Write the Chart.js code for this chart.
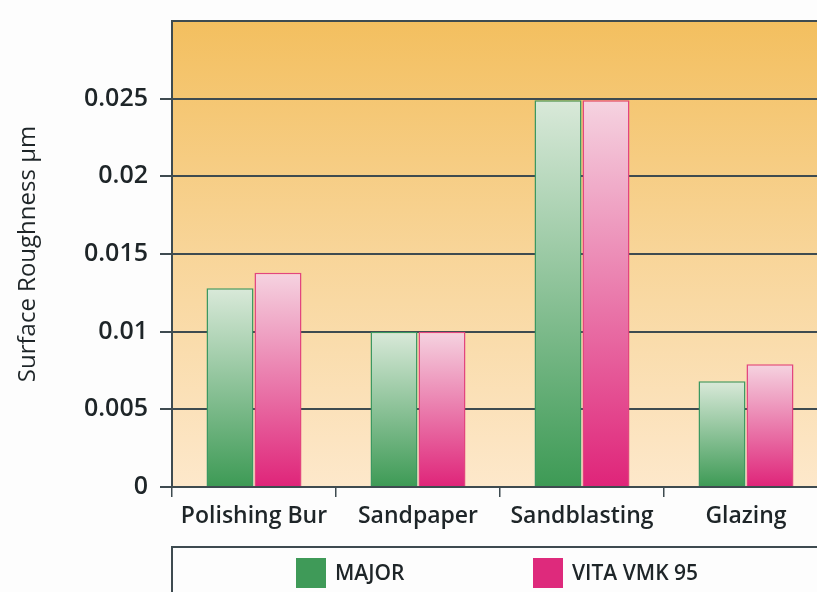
<!DOCTYPE html>
<html>
<head>
<meta charset="utf-8">
<script src="https://cdn.jsdelivr.net/npm/chart.js@4/dist/chart.umd.min.js"></script>
<style>
	html, body { margin: 0; padding: 0; background: #fdfdfd; overflow: hidden; }
	#wrap { width: 840px; height: 592px; }
</style>
</head>
<body>
<div id="wrap"><canvas id="chart" width="840" height="592"></canvas></div>
<script>
	// Chart data
	const categories = ['Polishing Bur', 'Sandpaper', 'Sandblasting', 'Glazing'];
	const majorValues = [0.0128, 0.0100, 0.0249, 0.0068];
	const vitaValues = [0.0138, 0.0100, 0.0249, 0.0079];
	const seriesNames = ['MAJOR', 'VITA VMK 95'];
	const yTicks = [0, 0.005, 0.01, 0.015, 0.02, 0.025, 0.03];

	const FONT = '"Open Sans", "DejaVu Sans", sans-serif';
	const AXIS = '#3e4b50';

	// Vertical gradient for each bar, pale at top, strong at the base
	function barGradient(ctx, top, bottom) {
		const chart = ctx.chart;
		if (!chart.chartArea) return bottom;
		const y = chart.scales.y;
		const v = ctx.raw || 0;
		const g = chart.ctx.createLinearGradient(0, y.getPixelForValue(v), 0, y.getPixelForValue(0));
		g.addColorStop(0, top);
		g.addColorStop(1, bottom);
		return g;
	}

	// Orange backdrop behind the plot area
	const plotBackground = {
		id: 'plotBackground',
		beforeDraw(chart) {
			const a = chart.chartArea;
			const c = chart.ctx;
			const g = c.createLinearGradient(0, a.top, 0, a.bottom);
			g.addColorStop(0, '#f3bf5f');
			g.addColorStop(0.5, '#f8d599');
			g.addColorStop(1, '#fde8cb');
			c.save();
			c.fillStyle = g;
			c.fillRect(a.left, a.top, a.right - a.left, a.bottom - a.top);
			c.restore();
		},
		afterDraw(chart) {
			const a = chart.chartArea;
			const c = chart.ctx;
			c.save();
			c.strokeStyle = AXIS;
			c.lineWidth = 2;
			c.beginPath();
			c.moveTo(a.left, a.top);
			c.lineTo(chart.width, a.top);
			c.stroke();
			c.restore();
		}
	};

	// Boxed legend below the category labels
	const boxLegend = {
		id: 'boxLegend',
		afterDraw(chart) {
			const a = chart.chartArea;
			const c = chart.ctx;
			const top = 547;
			c.save();
			c.strokeStyle = AXIS;
			c.lineWidth = 2;
			c.beginPath();
			c.moveTo(chart.width, top);
			c.lineTo(a.left, top);
			c.lineTo(a.left, chart.height);
			c.stroke();

			const items = [
				{ x: 296, color: '#3f9a58' },
				{ x: 533, color: '#de2a7c' }
			];
			c.font = '600 21px ' + FONT;
			c.textBaseline = 'middle';
			chart.data.datasets.forEach((ds, i) => {
				const it = items[i];
				c.fillStyle = it.color;
				c.fillRect(it.x, 558, 30, 30);
				c.fillStyle = '#1e2528';
				c.fillText(ds.label, it.x + 39, 574);
			});
			c.restore();
		}
	};

	const ctx = document.getElementById('chart').getContext('2d');
	new Chart(ctx, {
		type: 'bar',
		data: {
			labels: categories,
			datasets: [{
				label: seriesNames[0],
				data: majorValues,
				backgroundColor: c => barGradient(c, '#d9e9d9', '#3d9a55'),
				borderColor: '#3b9862',
				borderWidth: 1.5,
				borderSkipped: 'bottom'
			}, {
				label: seriesNames[1],
				data: vitaValues,
				backgroundColor: c => barGradient(c, '#f5d3e0', '#df2479'),
				borderColor: '#e2457f',
				borderWidth: 1.5,
				borderSkipped: 'bottom'
			}]
		},
		options: {
			responsive: false,
			animation: false,
			layout: { padding: { top: 21, right: 12, left: 0, bottom: 0 } },
			datasets: {
				bar: { categoryPercentage: 0.585, barPercentage: 0.98 }
			},
			plugins: {
				legend: { display: false },
				tooltip: { enabled: false }
			},
			scales: {
				x: {
					grid: {
						offset: true,
						drawOnChartArea: false,
						drawTicks: true,
						tickLength: 10,
						color: AXIS,
						lineWidth: 1.5
					},
					border: { display: true, color: AXIS, width: 2 },
					ticks: {
						color: '#1e2528',
						padding: 6,
						font: { family: FONT, size: 23, weight: '600' }
					},
					afterFit(scale) {
						scale.height = 105;
						scale.paddingLeft = 0;
						scale.paddingRight = 0;
					}
				},
				y: {
					min: 0,
					max: 0.03,
					afterBuildTicks(scale) {
						scale.ticks = yTicks.map(v => ({ value: v }));
					},
					grid: {
						color: AXIS,
						lineWidth: 2,
						tickLength: 12,
						tickColor: c => (c.tick && c.tick.value === 0.03 ? 'rgba(0,0,0,0)' : AXIS)
					},
					border: { display: true, color: AXIS, width: 2 },
					ticks: {
						color: '#1e2528',
						padding: 12,
						font: { family: FONT, size: 25, weight: '600' },
						callback: v => (v === 0.03 ? '' : String(Math.round(v * 1000) / 1000))
					},
					title: {
						display: true,
						text: 'Surface Roughness µm',
						color: '#1e2528',
						padding: { top: 14, bottom: 0 },
						font: { family: FONT, size: 24, weight: '500' }
					},
					afterFit(scale) {
						scale.width = 172;
						scale.paddingTop = 0;
						scale.paddingBottom = 0;
					}
				}
			}
		},
		plugins: [plotBackground, boxLegend]
	});
</script>
</body>
</html>
